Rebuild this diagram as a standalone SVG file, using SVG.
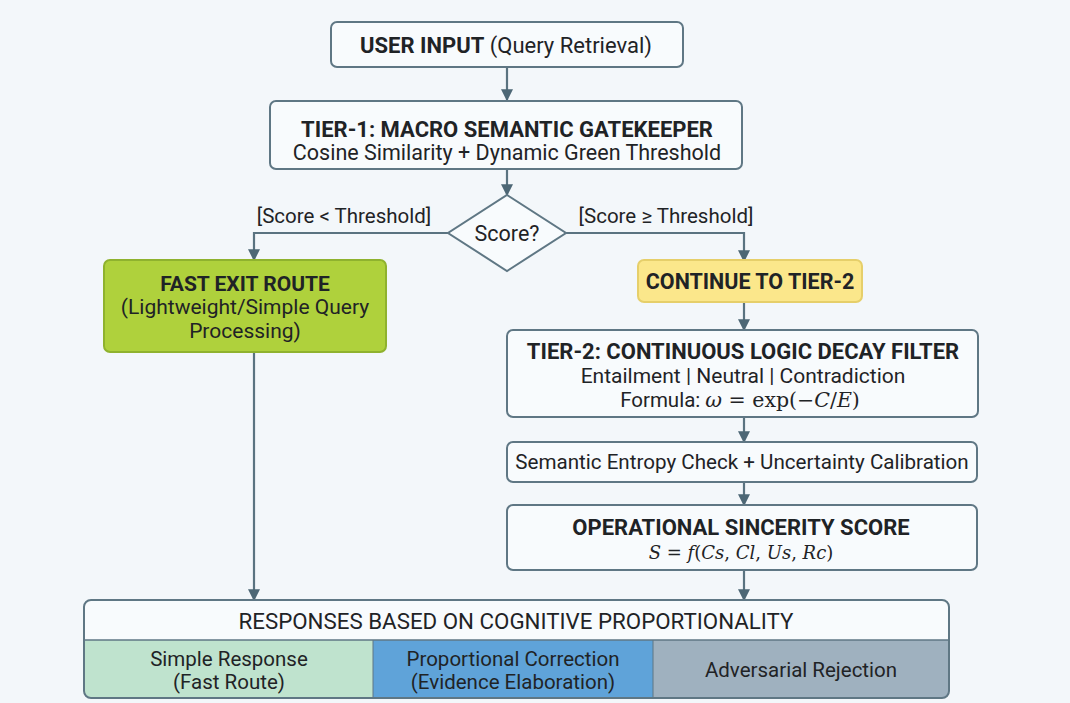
<svg xmlns="http://www.w3.org/2000/svg" width="1070" height="703" viewBox="0 0 1070 703">
<defs>
<marker id="ah" viewBox="0 0 10 10" refX="9" refY="5" markerWidth="12" markerHeight="12" markerUnits="userSpaceOnUse" orient="auto">
<path d="M0,0 L10,5 L0,10 z" fill="#4d6775"/>
</marker>
<style>
.box{fill:#f8fbfd;stroke:#5f7784;stroke-width:2}
.ln{fill:none;stroke:#5a7380;stroke-width:2.2}
.t{font-family:Roboto,"Liberation Sans",sans-serif;fill:#1f2326;text-anchor:middle;font-weight:normal}
.b{font-weight:bold}
.m{font-family:"DejaVu Serif","Liberation Serif",serif;font-style:italic;font-weight:normal}
.mu{font-family:"DejaVu Serif","Liberation Serif",serif;font-style:normal;font-weight:normal}
</style>
</defs>
<rect x="0" y="0" width="1070" height="703" fill="#f3f7fa"/>

<g id="connectors">
<line class="ln" x1="507" y1="67" x2="507" y2="100" marker-end="url(#ah)"/>
<line class="ln" x1="507" y1="169" x2="507" y2="195" marker-end="url(#ah)"/>
<polyline class="ln" points="448,233 254,233 254,260" marker-end="url(#ah)"/>
<polyline class="ln" points="566,233 744,233 744,261" marker-end="url(#ah)"/>
<line class="ln" x1="744" y1="302" x2="744" y2="330" marker-end="url(#ah)"/>
<line class="ln" x1="744" y1="417" x2="744" y2="442" marker-end="url(#ah)"/>
<line class="ln" x1="744" y1="482" x2="744" y2="505" marker-end="url(#ah)"/>
<line class="ln" x1="744" y1="570" x2="744" y2="600" marker-end="url(#ah)"/>
<line class="ln" x1="254" y1="352" x2="254" y2="600" marker-end="url(#ah)"/>
<text class="t" x="344" y="223" font-size="20.5">[Score &lt; Threshold]</text>
<text class="t" x="666" y="223" font-size="20.5">[Score ≥ Threshold]</text>
</g>

<g id="user-input">
<rect class="box" x="331" y="22" width="352" height="45" rx="6"/>
<text class="t" x="506" y="53" font-size="22"><tspan class="b">USER INPUT</tspan> (Query Retrieval)</text>
</g>

<g id="tier1">
<rect class="box" x="270" y="101" width="472" height="68" rx="6"/>
<text class="t b" x="507" y="137" font-size="22">TIER-1: MACRO SEMANTIC GATEKEEPER</text>
<text class="t" x="507" y="160" font-size="21.5">Cosine Similarity + Dynamic Green Threshold</text>
</g>

<g id="decision">
<polygon points="507,195 566,233 507,271 448,233" fill="#f8fbfd" stroke="#5f7784" stroke-width="2"/>
<text class="t" x="507" y="241" font-size="21.5">Score?</text>
</g>

<g id="fast-exit">
<rect x="104" y="260" width="282" height="92" rx="6" fill="#afd13c" stroke="#8fb22e" stroke-width="2"/>
<text class="t b" x="245" y="291" font-size="21">FAST EXIT ROUTE</text>
<text class="t" x="245" y="314" font-size="21">(Lightweight/Simple Query</text>
<text class="t" x="245" y="338" font-size="21">Processing)</text>
</g>

<g id="continue">
<rect x="638" y="260" width="224" height="42" rx="6" fill="#fbe78b" stroke="#e6cf6a" stroke-width="2"/>
<text class="t b" x="750" y="289" font-size="21.5">CONTINUE TO TIER-2</text>
</g>

<g id="tier2">
<rect class="box" x="507" y="330" width="471" height="87" rx="6"/>
<text class="t b" x="743" y="359" font-size="22">TIER-2: CONTINUOUS LOGIC DECAY FILTER</text>
<text class="t" x="743" y="383" font-size="21">Entailment | Neutral | Contradiction</text>
<text class="t" x="740" y="407" font-size="20.5">Formula: <tspan class="m">ω</tspan><tspan class="mu"> = exp(−</tspan><tspan class="m">C</tspan><tspan class="mu">/</tspan><tspan class="m">E</tspan><tspan class="mu">)</tspan></text>
</g>

<g id="entropy">
<rect class="box" x="507" y="442" width="470" height="40" rx="6"/>
<text class="t" x="742" y="469" font-size="20.6">Semantic Entropy Check + Uncertainty Calibration</text>
</g>

<g id="sincerity">
<rect class="box" x="507" y="505" width="470" height="65" rx="6"/>
<text class="t b" x="741" y="535" font-size="22">OPERATIONAL SINCERITY SCORE</text>
<text class="t" x="741" y="559" font-size="18"><tspan class="m">S</tspan><tspan class="mu"> = </tspan><tspan class="m">f</tspan><tspan class="mu">(</tspan><tspan class="m">Cs</tspan><tspan class="mu">, </tspan><tspan class="m">Cl</tspan><tspan class="mu">, </tspan><tspan class="m">Us</tspan><tspan class="mu">, </tspan><tspan class="m">Rc</tspan><tspan class="mu">)</tspan></text>
</g>

<g id="responses">
<rect x="84" y="600" width="865" height="98" rx="7" fill="#f8fbfd"/>
<path d="M84,640 H373 V698 H91 Q84,698 84,691 Z" fill="#bfe3ce"/>
<rect x="373" y="640" width="280" height="58" fill="#5fa3d9"/>
<path d="M653,640 H949 V691 Q949,698 942,698 H653 Z" fill="#9fb1bf"/>
<line x1="84" y1="640" x2="949" y2="640" stroke="#5f7784" stroke-width="1.5"/>
<line x1="373" y1="640" x2="373" y2="698" stroke="#5f7784" stroke-width="1"/>
<line x1="653" y1="640" x2="653" y2="698" stroke="#5f7784" stroke-width="1"/>
<rect x="84" y="600" width="865" height="98" rx="7" fill="none" stroke="#5f7784" stroke-width="2"/>
<text class="t" x="516" y="629" font-size="22" textLength="555" lengthAdjust="spacingAndGlyphs">RESPONSES BASED ON COGNITIVE PROPORTIONALITY</text>
<text class="t" x="229" y="666" font-size="20.5">Simple Response</text>
<text class="t" x="229" y="689" font-size="20.5">(Fast Route)</text>
<text class="t" x="513" y="666" font-size="20.5">Proportional Correction</text>
<text class="t" x="513" y="689" font-size="20.5">(Evidence Elaboration)</text>
<text class="t" x="801" y="677" font-size="20.5">Adversarial Rejection</text>
</g>
</svg>
